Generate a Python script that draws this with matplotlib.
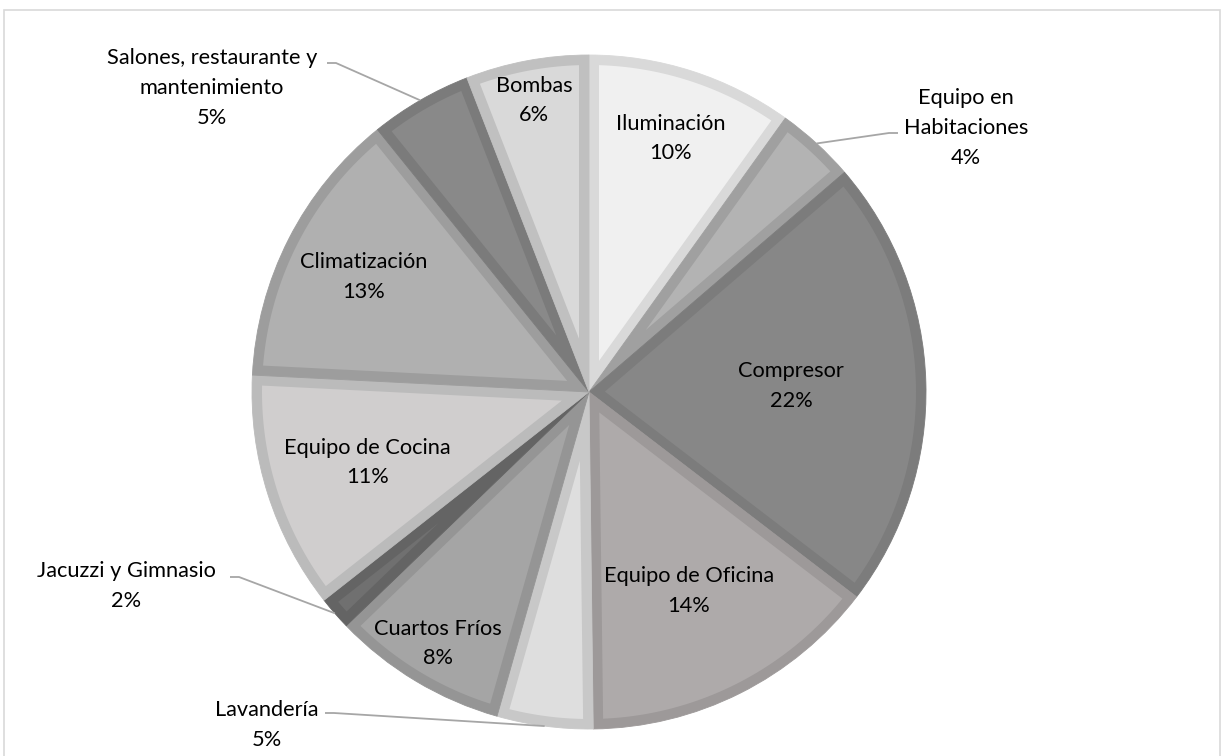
import numpy as np
import matplotlib.pyplot as plt
from matplotlib.patches import Polygon, Rectangle

# slice data, clockwise from 12 o'clock
labels = ["Iluminación", "Equipo en\nHabitaciones", "Compresor", "Equipo de Oficina",
          "Lavandería", "Cuartos Fríos", "Jacuzzi y Gimnasio", "Equipo de Cocina",
          "Climatización", "Salones, restaurante y\nmantenimiento", "Bombas"]
values = [9.9, 3.8, 21.7, 14.4, 4.6, 8.4, 1.6, 11.4, 13.4, 4.9, 5.9]
fills = ["#F0F0F0", "#B3B3B3", "#878787", "#AEAAAA", "#DEDEDE", "#A5A5A5",
         "#707070", "#D0CECE", "#B0B0B0", "#898989", "#D9D9D9"]
edges = ["#D9D9D9", "#A0A0A0", "#7C7C7C", "#9D9999", "#C8C8C8", "#959595",
         "#646464", "#BBBBBB", "#9D9D9D", "#7B7B7B", "#C0C0C0"]

W, H = 1223, 756
cx, cy, R = 589, 392, 337   # pixel coords, y from top
B = 10                      # slice border width in px
FS = 15.7
LS = 1.6

# inside label radius (fraction of R); None -> outside label with leader
inside_r = [0.79, None, 0.60, 0.66, None, 0.87, None, 0.69, 0.75, None, 0.88]
# outside labels: text centre and leader start (pixel coords, y from top)
outside = {
    1: ((966, 128), (898, 133)),
    4: ((267, 725), (325, 713)),
    6: ((126, 586), (230, 577)),
    9: ((212, 88), (327, 63)),
}

plt.rcParams["font.family"] = ["Lato", "DejaVu Sans"]


def inset_wedge(c, r_out, a_lo, a_hi, b):
    # region of the wedge lying at least b px from its outline
    phi = (a_hi - a_lo) / 2
    mid = (a_hi + a_lo) / 2
    d = b / np.sin(phi)
    r = r_out - b
    if d >= r:
        return None
    q = d * np.array([np.cos(mid), np.sin(mid)])
    pts = []
    for a in (a_lo, a_hi):
        u = np.array([np.cos(a), np.sin(a)])
        qu = q @ u
        t = -qu + np.sqrt(qu ** 2 - q @ q + r ** 2)
        pts.append(q + t * u)
    ang_lo = np.arctan2(pts[0][1], pts[0][0])
    ang_hi = np.arctan2(pts[1][1], pts[1][0])
    if ang_hi < ang_lo:
        ang_hi += 2 * np.pi
    arc = np.linspace(ang_lo, ang_hi, 120)
    xy = [q] + [np.array([r * np.cos(a), r * np.sin(a)]) for a in arc]
    return np.array(xy) + np.array(c)


fig = plt.figure(figsize=(W / 100, H / 100), dpi=100)
ax = fig.add_axes([0, 0, 1, 1])

wedges, _ = ax.pie(values, colors=edges, startangle=90, counterclock=False,
                   center=(cx, H - cy), radius=R,
                   wedgeprops=dict(linewidth=0.6))
for w, ec in zip(wedges, edges):
    w.set_edgecolor(ec)

total = sum(values)
start = 0.0
for i, (lab, v) in enumerate(zip(labels, values)):
    th1 = start / total * 2 * np.pi
    th2 = (start + v) / total * 2 * np.pi
    start += v
    inner = inset_wedge((cx, H - cy), R, np.pi / 2 - th2, np.pi / 2 - th1, B)
    if inner is not None:
        ax.add_patch(Polygon(inner, closed=True, facecolor=fills[i],
                             edgecolor="none", zorder=2))

    mid = (th1 + th2) / 2
    txt = f"{lab}\n{v / total * 100:.0f}%"
    if inside_r[i] is not None:
        r = inside_r[i] * R
        x, y = cx + r * np.sin(mid), H - (cy - r * np.cos(mid))
        ax.text(x, y, txt, ha="center", va="center", fontsize=FS,
                linespacing=LS, color="#000000", zorder=5)
    else:
        (tx, ty), (lx, ly) = outside[i]
        ex, ey = cx + R * np.sin(mid), cy - R * np.cos(mid)
        hx = lx + (9 if lx < ex else -9)
        ax.plot([lx, hx, ex], [H - ly, H - ly, H - ey], color="#A6A6A6",
                lw=1.3, solid_capstyle="butt", zorder=4)
        ax.text(tx, H - ty, txt, ha="center", va="center", fontsize=FS,
                linespacing=LS, color="#000000", zorder=5)

ax.add_patch(Rectangle((3.5, -5), 1216, H - 9 + 5 - 0.5, fill=False,
                       edgecolor="#D9D9D9", lw=1.2))
ax.set_xlim(0, W)
ax.set_ylim(0, H)
ax.set_aspect("equal")
ax.axis("off")

fig.savefig("out.png", dpi=100, facecolor="white")
